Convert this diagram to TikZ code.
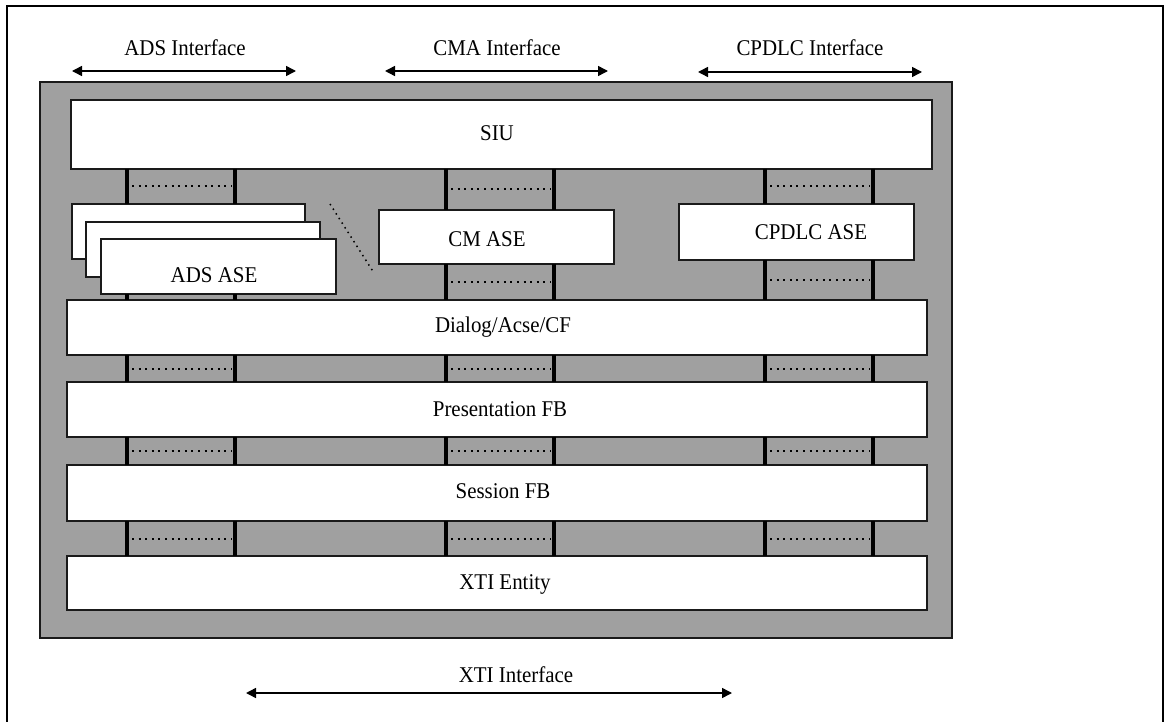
\documentclass[tikz,border=0pt]{standalone}
\usepackage{fontspec}
\setmainfont[FakeStretch=0.93]{Liberation Serif}
\usetikzlibrary{arrows.meta,calc}
\definecolor{panelgray}{HTML}{A0A0A0}
\definecolor{edge}{HTML}{1A1A1A}

% two thick rails between two stacked blocks, with a dotted line between them
\newcommand\railpair[4]{%
  \draw[bar] (#1.south -| #3) -- (#2.north -| #3);
  \draw[bar] (#1.south -| #4) -- (#2.north -| #4);
  \draw[dots] ($(#1.south -| #3)!0.5!(#2.north -| #3) + (5,0)$) --
              ($(#1.south -| #4)!0.5!(#2.north -| #4) + (-3,0)$);
}

\begin{document}
\begin{tikzpicture}[x=1pt,y=-1pt,
  box/.style={draw=edge,line width=1.5pt,fill=white,inner sep=0pt,outer sep=0pt},
  panel/.style={draw=edge,line width=1.5pt,fill=panelgray,inner sep=0pt,outer sep=0pt},
  bar/.style={line width=3.8pt,black},
  dots/.style={line width=2pt,dash pattern=on 2pt off 4.6pt},
  fine dots/.style={line width=1.5pt,dash pattern=on 1.5pt off 4pt},
  lbl/.style={font=\fontsize{22.5}{26}\selectfont,anchor=base,inner sep=0pt},
  iface/.style={line width=1.5pt,{Triangle[length=10pt,width=10pt]}-{Triangle[length=10pt,width=10pt]}}
]
\useasboundingbox (0,0) rectangle (1167,722);

% outer frame
\draw[line width=2.2pt,black] (7,724) -- (7,6) -- (1163,6) -- (1163,724);

% rail columns
\coordinate (a1) at (127,0); \coordinate (a2) at (235,0);
\coordinate (b1) at (446,0); \coordinate (b2) at (554,0);
\coordinate (c1) at (765,0); \coordinate (c2) at (873,0);

% grey stack
\node[panel,minimum width=912,minimum height=556] (stack) at (496,360) {};

% blocks
\node[box,minimum width=861,minimum height=69] (siu)    at (501.5,134.5) {};
\node[box,minimum width=233,minimum height=55] (ads1)   at (188.5,231.5) {};
\node[box,minimum width=234,minimum height=55] (ads2)   at (203,249.5) {};
\node[box,minimum width=235,minimum height=55] (ads3)   at (218.5,266.5) {};
\node[box,minimum width=235,minimum height=54] (cm)     at (496.5,237) {};
\node[box,minimum width=235,minimum height=56] (cpdlc)  at (796.5,232) {};
\node[box,minimum width=860,minimum height=55] (dialog) at (497,327.5) {};
\node[box,minimum width=860,minimum height=55] (pres)   at (497,409.5) {};
\node[box,minimum width=860,minimum height=56] (sess)   at (497,493) {};
\node[box,minimum width=860,minimum height=54] (xti)    at (497,583) {};

% block labels
\node[lbl] (siuT)    at (497,141) {SIU};
\node[lbl] (adsT)    at (214,282) {ADS ASE};
\node[lbl] (cmT)     at (487,247) {CM ASE};
\node[lbl] (cpdlcT)  at (811,240) {CPDLC ASE};
\node[lbl] (dialogT) at (503,332) {Dialog/Acse/CF};
\node[lbl] (presT)   at (500,416) {Presentation FB};
\node[lbl] (sessT)   at (503,498) {Session FB};
\node[lbl] (xtiT)    at (505,589) {XTI Entity};

% rails between blocks
\railpair{siu}{ads1}{a1}{a2}
\draw[bar] (ads3.south -| a1) -- (dialog.north -| a1);
\draw[bar] (ads3.south -| a2) -- (dialog.north -| a2);
\railpair{dialog}{pres}{a1}{a2}
\railpair{pres}{sess}{a1}{a2}
\railpair{sess}{xti}{a1}{a2}

\railpair{siu}{cm}{b1}{b2}
\railpair{cm}{dialog}{b1}{b2}
\railpair{dialog}{pres}{b1}{b2}
\railpair{pres}{sess}{b1}{b2}
\railpair{sess}{xti}{b1}{b2}

\railpair{siu}{cpdlc}{c1}{c2}
\railpair{cpdlc}{dialog}{c1}{c2}
\railpair{dialog}{pres}{c1}{c2}
\railpair{pres}{sess}{c1}{c2}
\railpair{sess}{xti}{c1}{c2}

% dotted stroke beside the ADS instances
\coordinate (ellA) at (330,204);
\coordinate (ellB) at (374,273);
\draw[fine dots] (ellA) -- (ellB);

% interfaces
\coordinate (adsL) at (72,71);    \coordinate (adsR) at (296,71);
\coordinate (cmaL) at (385,71);   \coordinate (cmaR) at (608,71);
\coordinate (cpdL) at (698,72);   \coordinate (cpdR) at (922,72);
\coordinate (xtiL) at (246,693);  \coordinate (xtiR) at (732,693);
\draw[iface] (adsL) -- (adsR);
\draw[iface] (cmaL) -- (cmaR);
\draw[iface] (cpdL) -- (cpdR);
\draw[iface] (xtiL) -- (xtiR);
\node[lbl] (adsI) at (185,56) {ADS Interface};
\node[lbl] (cmaI) at (497,56) {CMA Interface};
\node[lbl] (cpdI) at (810,56) {CPDLC Interface};
\node[lbl] (xtiI) at (516,682) {XTI Interface};
\end{tikzpicture}
\end{document}
